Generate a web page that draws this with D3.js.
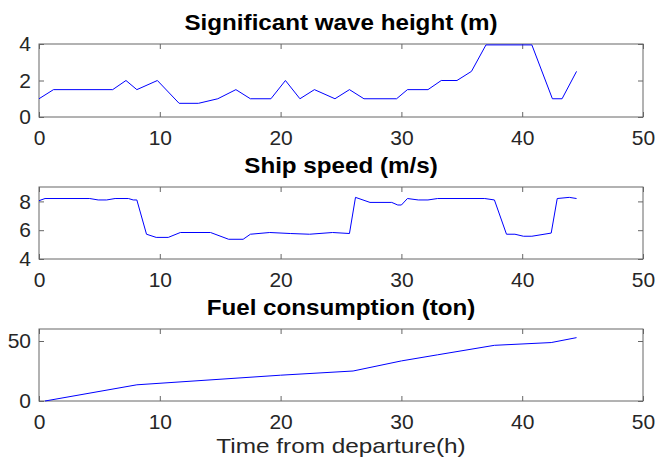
<!DOCTYPE html>
<html>
<head>
<meta charset="utf-8">
<script src="https://cdn.jsdelivr.net/npm/d3@7"></script>
<style>
  body { margin: 0; background: #fff; }
  text { font-family: "Liberation Sans", Arial, Helvetica, sans-serif; fill: #262626; }
</style>
</head>
<body>
<script>
// 데이터
var xTicks = [0, 10, 20, 30, 40, 50];

var waveTime = [0, 1.2, 6.1, 7.2, 8.1, 9.8, 11.6, 13.2, 14.8, 16.3, 17.5, 19.2, 20.4, 21.6, 22.8,
                24.5, 25.7, 26.9, 29.6, 30.5, 32.2, 33.3, 34.6, 35.8, 37.0, 40.8, 42.5, 43.3, 44.5];
var waveHeight = [1, 1.5, 1.5, 2, 1.5, 2, 0.75, 0.75, 1, 1.5, 1, 1, 2, 1, 1.5,
                  1, 1.5, 1, 1, 1.5, 1.5, 2, 2, 2.5, 3.95, 3.95, 1, 1, 2.5];
var waveTicks = [0, 2, 4];

var speedTime = [0, 0.5, 4.2, 4.9, 5.6, 6.3, 7.4, 7.8, 8.1, 8.9, 9.7, 10.7, 11.7, 14.2, 15.7, 16.9,
                 17.5, 19.1, 20.8, 22.4, 24.3, 25.7, 26.2, 27.4, 29.2, 29.7, 30.0, 30.5, 31.4, 32.2,
                 33.0, 36.9, 37.7, 38.7, 39.4, 40.1, 40.8, 42.4, 42.9, 43.9, 44.5];
var speedValue = [8.05, 8.2, 8.2, 8.1, 8.1, 8.2, 8.2, 8.1, 8.1, 5.72, 5.5, 5.5, 5.84, 5.84, 5.37, 5.37,
                  5.72, 5.84, 5.77, 5.72, 5.84, 5.77, 8.28, 7.93, 7.93, 7.75, 7.75, 8.2, 8.1, 8.1,
                  8.2, 8.2, 8.1, 5.72, 5.72, 5.58, 5.58, 5.8, 8.2, 8.28, 8.2];
var speedTicks = [4, 6, 8];

var fuelTime = [0.5, 8.1, 20, 26, 30, 33, 37.7, 42.4, 44.5];
var fuelValue = [0, 13.5, 21.5, 25, 33.4, 38.5, 46.4, 48.7, 52.8];
var fuelTicks = [0, 50];

var width = 656;
var height = 464;

var svg = d3.select("body")
            .append("svg")
            .attr("width", width)
            .attr("height", height);

var left = 39, right = 643;
var cx = (left + right) / 2;
var x = d3.scaleLinear().domain([0, 50]).range([left, right]);

function drawPanel(top, bottom, title, yDomain, yTicks, tData, vData) {
  var y = d3.scaleLinear().domain(yDomain).range([bottom, top]);
  var g = svg.append("g");

  // 틱 (안쪽 방향)
  g.append("g")
   .attr("transform", "translate(0," + bottom + ")")
   .call(d3.axisBottom(x).tickValues(xTicks).tickSize(-5).tickPadding(13).tickFormat(d3.format("d")))
   .call(styleAxis)
   .selectAll("text").attr("font-size", "21px").attr("dy", "0.71em");
  g.append("g")
   .attr("transform", "translate(0," + top + ")")
   .call(d3.axisTop(x).tickValues(xTicks).tickSize(-5).tickFormat(""))
   .call(styleAxis);
  g.append("g")
   .attr("transform", "translate(" + left + ",0)")
   .call(d3.axisLeft(y).tickValues(yTicks).tickSize(-5).tickPadding(8).tickFormat(d3.format("d")))
   .call(styleAxis)
   .selectAll("text").attr("font-size", "21px");
  g.append("g")
   .attr("transform", "translate(" + right + ",0)")
   .call(d3.axisRight(y).tickValues(yTicks).tickSize(-5).tickFormat(""))
   .call(styleAxis);

  // 박스
  g.append("rect")
   .attr("x", left).attr("y", top)
   .attr("width", right - left).attr("height", bottom - top)
   .attr("fill", "none")
   .attr("stroke", "#666")
   .attr("stroke-width", 1);

  var pts = tData.map(function(t, i) { return [t, vData[i]]; });
  g.append("path")
   .datum(pts)
   .attr("fill", "none")
   .attr("stroke", "#0000ff")
   .attr("stroke-width", 1)
   .attr("d", d3.line()
               .x(function(d) { return x(d[0]); })
               .y(function(d) { return y(d[1]); }));

  // 제목 (원본은 가로로 조금 늘어나 있음)
  g.append("text")
   .attr("transform", "translate(" + cx + "," + (top - 14) + ") scale(1.1,1)")
   .attr("text-anchor", "middle")
   .attr("font-size", "22px")
   .attr("font-weight", "bold")
   .style("fill", "#000")
   .text(title);
}

function styleAxis(sel) {
  sel.select(".domain").remove();
  sel.selectAll(".tick line").attr("stroke", "#666");
  sel.selectAll(".tick text").style("fill", "#262626").attr("font-family", null);
}

drawPanel(44, 117, "Significant wave height (m)", [0, 4], waveTicks, waveTime, waveHeight);
drawPanel(187, 259, "Ship speed (m/s)", [4, 9], speedTicks, speedTime, speedValue);
drawPanel(329, 401, "Fuel consumption (ton)", [0, 60], fuelTicks, fuelTime, fuelValue);

svg.append("text")
   .attr("transform", "translate(" + cx + ",453) scale(1.16,1)")
   .attr("text-anchor", "middle")
   .attr("font-size", "21px")
   .text("Time from departure(h)");
</script>
</body>
</html>
